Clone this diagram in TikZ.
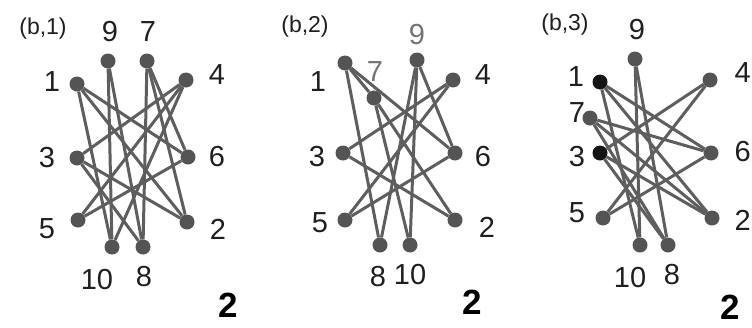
\documentclass[tikz,border=0pt]{standalone}
\usepackage{fontspec}
\setmainfont{Liberation Sans}
\usetikzlibrary{calc, positioning}
\definecolor{linkgray}{rgb}{0.37, 0.37, 0.37}
\definecolor{vertgray}{rgb}{0.33, 0.33, 0.33}
\definecolor{softgray}{rgb}{0.45, 0.45, 0.45}

\tikzset{
  vtx/.style={circle, fill=vertgray, inner sep=0pt, minimum size=15pt},
  vtxdark/.style={vtx, fill=black!92},
  link/.style={linkgray, line width=3pt},
  lab/.style={inner sep=0pt, text=black!88, font=\fontsize{29}{31}\selectfont},
  tag/.style={inner sep=0pt, text=black!88, font=\fontsize{23}{25}\selectfont},
  score/.style={inner sep=0pt, text=black, font=\fontsize{35}{37}\selectfont\bfseries}
}

\begin{document}
\begin{tikzpicture}[x=1pt, y=-1pt]
        \useasboundingbox (0,0) rectangle (752,327);
        \clip (0,0) rectangle (752,327);

        % (b,1)
        \node[tag] (ta) at (43,29) {(b,1)};
        \node[vtx] (a9) at (108,61) {};
        \node[vtx] (a7) at (147,61) {};
        \node[vtx] (a1) at (77,84) {};
        \node[vtx] (a4) at (186,80) {};
        \node[vtx] (a3) at (77,158) {};
        \node[vtx] (a6) at (188,157) {};
        \node[vtx] (a5) at (78,220) {};
        \node[vtx] (a2) at (187,222) {};
        \node[vtx] (a10) at (112,247) {};
        \node[vtx] (a8) at (143,247) {};

        \node[lab] (la9) at (110,32) {9};
        \node[lab] (la7) at (148,32) {7};
        \node[lab] (la1) at (52,82) {1};
        \node[lab] (la4) at (217,75) {4};
        \node[lab] (la3) at (47,158) {3};
        \node[lab] (la6) at (217,157) {6};
        \node[lab] (la5) at (47,229) {5};
        \node[lab] (la2) at (218,229) {2};
        \node[lab] (la10) at (97,280) {10};
        \node[lab] (la8) at (144,277) {8};
        \node[score] (sa) at (228,305) {2};

        \draw[link] (a1) -- (a6);
        \draw[link] (a1) -- (a2);
        \draw[link] (a1) -- (a10);
        \draw[link] (a4) -- (a3);
        \draw[link] (a4) -- (a5);
        \draw[link] (a4) -- (a10);
        \draw[link] (a7) -- (a6);
        \draw[link] (a7) -- (a8);
        \draw[link] (a7) -- (a2);
        \draw[link] (a5) -- (a6);
        \draw[link] (a3) -- (a2);
        \draw[link] (a3) -- (a8);
        \draw[link] (a9) -- (a10);
        \draw[link] (a9) -- (a8);

        % (b,2)
        \node[tag] (tb) at (305,27) {(b,2)};
        \node[vtx] (b1) at (345,63) {};
        \node[vtx] (b7) at (374,98) {};
        \node[vtx] (b9) at (417,60) {};
        \node[vtx] (b4) at (453,80) {};
        \node[vtx] (b3) at (343,153) {};
        \node[vtx] (b6) at (455,153) {};
        \node[vtx] (b5) at (345,220) {};
        \node[vtx] (b2) at (455,220) {};
        \node[vtx] (b8) at (380,245) {};
        \node[vtx] (b10) at (410,245) {};

        \node[lab] (lb1) at (318,82) {1};
        \node[lab, text=softgray] (lb7) at (375,72) {7};
        \node[lab, text=softgray] (lb9) at (417,35) {9};
        \node[lab] (lb4) at (483,75) {4};
        \node[lab] (lb3) at (317,157) {3};
        \node[lab] (lb6) at (483,157) {6};
        \node[lab] (lb5) at (320,223) {5};
        \node[lab] (lb2) at (487,227) {2};
        \node[lab] (lb8) at (378,277) {8};
        \node[lab] (lb10) at (410,275) {10};
        \node[score] (sb) at (472,302) {2};

        \draw[link] (b1) -- (b6);
        \draw[link] (b1) -- (b7);
        \draw[link] (b1) -- (b8);
        \draw[link] (b7) -- (b2);
        \draw[link] (b7) -- (b10);
        \draw[link] (b9) -- (b10);
        \draw[link] (b9) -- (b8);
        \draw[link] (b9) -- (b6);
        \draw[link] (b4) -- (b3);
        \draw[link] (b4) -- (b5);
        \draw[link] (b3) -- (b2);
        \draw[link] (b5) -- (b6);

        % (b,3)
        \node[tag] (tc) at (565,25) {(b,3)};
        \node[vtx] (c9) at (635,59) {};
        \node[vtxdark] (c1) at (600,82) {};
        \node[vtx] (c4) at (710,80) {};
        \node[vtx] (c7) at (590,118) {};
        \node[vtxdark] (c3) at (600,153) {};
        \node[vtx] (c6) at (711,153) {};
        \node[vtx] (c5) at (603,218) {};
        \node[vtx] (c2) at (712,218) {};
        \node[vtx] (c10) at (640,245) {};
        \node[vtx] (c8) at (668,245) {};

        \node[lab] (lc9) at (637,30) {9};
        \node[lab] (lc1) at (576,77) {1};
        \node[lab, anchor=east] (lc4) at (751,73) {4};
        \node[lab] (lc7) at (577,113) {7};
        \node[lab] (lc3) at (577,157) {3};
        \node[lab, anchor=east] (lc6) at (751,152) {6};
        \node[lab] (lc5) at (577,213) {5};
        \node[lab, anchor=east] (lc2) at (751,220) {2};
        \node[lab] (lc10) at (630,278) {10};
        \node[lab] (lc8) at (672,275) {8};
        \node[score] (sc) at (730,307) {2};

        \draw[link] (c1) -- (c6);
        \draw[link] (c1) -- (c2);
        \draw[link] (c1) -- (c10);
        \draw[link] (c7) -- (c6);
        \draw[link] (c7) -- (c8);
        \draw[link] (c7) -- (c2);
        \draw[link] (c9) -- (c10);
        \draw[link] (c9) -- (c8);
        \draw[link] (c4) -- (c3);
        \draw[link] (c4) -- (c5);
        \draw[link] (c3) -- (c2);
        \draw[link] (c3) -- (c8);
        \draw[link] (c5) -- (c6);
    \end{tikzpicture}
\end{document}
